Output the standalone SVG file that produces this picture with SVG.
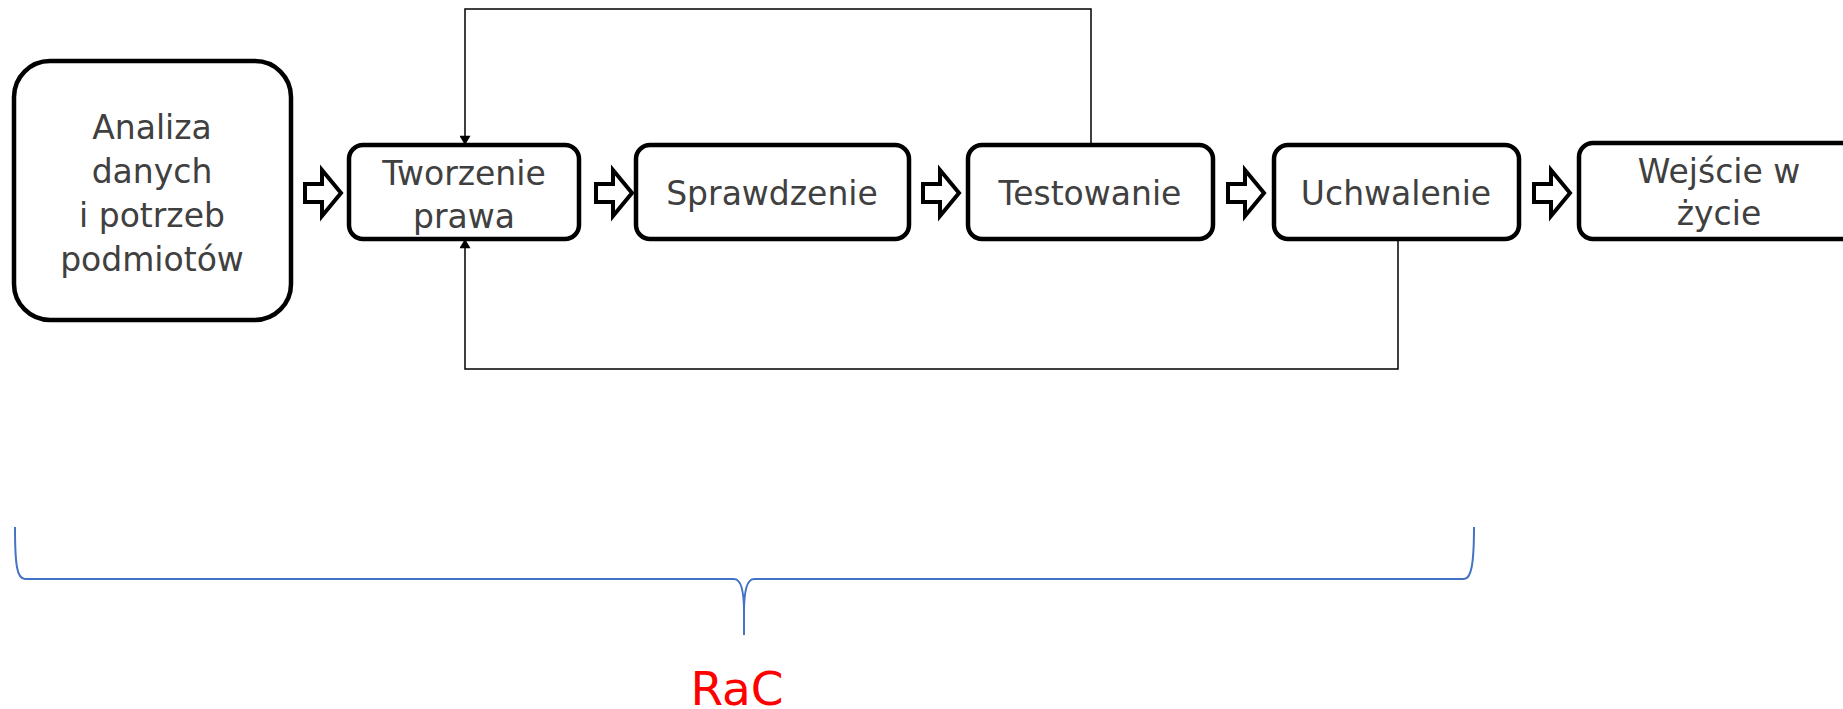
<svg xmlns="http://www.w3.org/2000/svg" width="1843" height="709" viewBox="0 0 1843 709">
<style>
.box{fill:#fff;stroke:#000;stroke-width:4.5}
.t{font-family:"DejaVu Sans",Verdana,sans-serif;font-size:33px;fill:#404040;text-anchor:middle}
.blk{fill:#fff;stroke:#000;stroke-width:4;stroke-linejoin:miter}
.ln{fill:none;stroke:#000;stroke-width:1.5}
.brace{fill:none;stroke:#4472C4;stroke-width:2}
</style>
<defs>
<marker id="ah" viewBox="0 0 10 12" refX="10" refY="6" markerWidth="12" markerHeight="11" markerUnits="userSpaceOnUse" orient="auto"><path d="M0,0 L10,6 L0,12 z" fill="#000"/></marker>
<path id="blockArrow" d="M0,-9 H17 V-23 L36,0 L17,23 V9 H0 Z"/>
</defs>
<rect width="1843" height="709" fill="#fff"/>
<g id="connectors">
<path class="ln" d="M1091,145 V9 H465 V145" marker-end="url(#ah)"/>
<path class="ln" d="M1398,239 V369 H465 V239" marker-end="url(#ah)"/>
<use href="#blockArrow" class="blk" x="305" y="193"/>
<use href="#blockArrow" class="blk" x="596" y="193"/>
<use href="#blockArrow" class="blk" x="923" y="193"/>
<use href="#blockArrow" class="blk" x="1228" y="193"/>
<use href="#blockArrow" class="blk" x="1534" y="193"/>
</g>
<g id="n-analiza">
<rect class="box" x="14" y="61" width="277" height="259" rx="36"/>
<text class="t" x="152" y="139">Analiza</text>
<text class="t" x="152" y="183">danych</text>
<text class="t" x="152" y="227">i potrzeb</text>
<text class="t" x="152" y="271">podmiotów</text>
</g>
<g id="n-tworzenie">
<rect class="box" x="349" y="145" width="230" height="94" rx="14"/>
<text class="t" x="464" y="185">Tworzenie</text>
<text class="t" x="464" y="228">prawa</text>
</g>
<g id="n-sprawdzenie">
<rect class="box" x="636" y="145" width="273" height="94" rx="14"/>
<text class="t" x="772" y="205">Sprawdzenie</text>
</g>
<g id="n-testowanie">
<rect class="box" x="968" y="145" width="245" height="94" rx="14"/>
<text class="t" x="1090" y="205">Testowanie</text>
</g>
<g id="n-uchwalenie">
<rect class="box" x="1274" y="145" width="245" height="94" rx="14"/>
<text class="t" x="1396" y="205">Uchwalenie</text>
</g>
<g id="n-wejscie">
<rect class="box" x="1579" y="143" width="290" height="96" rx="14"/>
<text class="t" x="1719" y="183">Wejście w</text>
<text class="t" x="1719" y="225">życie</text>
</g>
<g id="brace">
<path class="brace" d="M15,527 C15,565 17,579 25,579 L734,579 C741,579 744,590 744,612 L744,635 M744,612 C744,590 747,579 754,579 L1464,579 C1471,579 1474,565 1474,527"/>
</g>
<text x="737" y="705" font-family="DejaVu Sans, Verdana, sans-serif" font-size="47" fill="#FF0000" text-anchor="middle">RaC</text>
</svg>
